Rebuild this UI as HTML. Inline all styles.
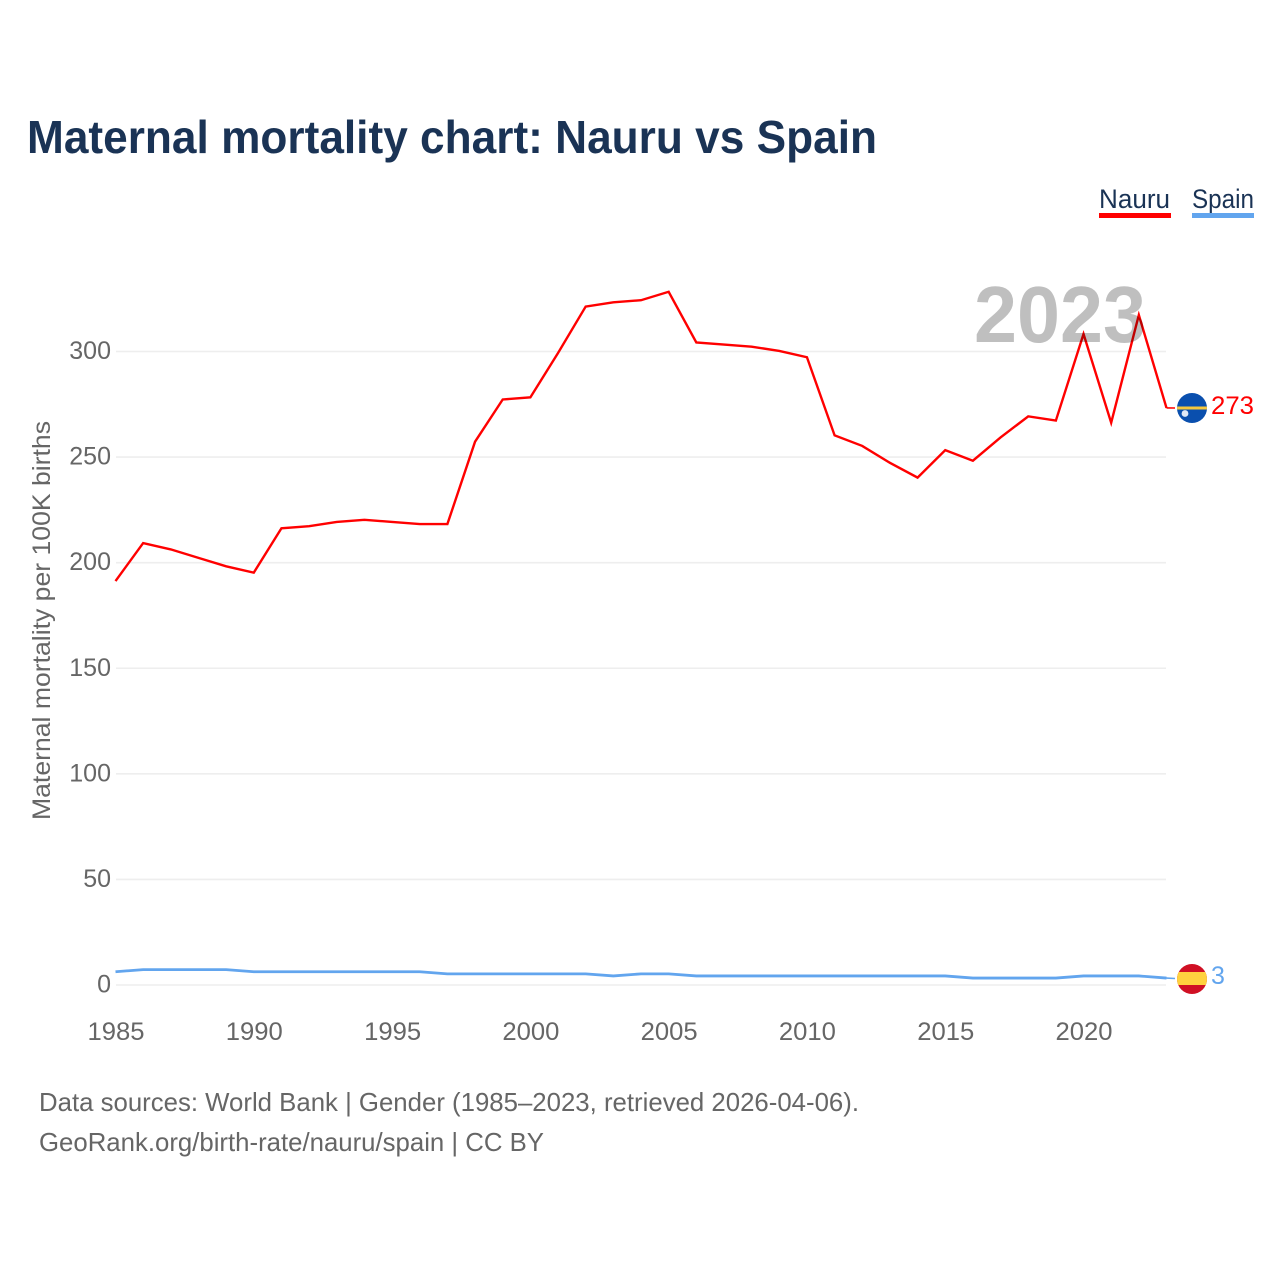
<!DOCTYPE html>
<html lang="en">
<head>
<meta charset="utf-8">
<title>Maternal mortality chart: Nauru vs Spain</title>
<style>
html,body{margin:0;padding:0;background:#fff;}
svg{display:block;font-family:"Liberation Sans",sans-serif;}
</style>
</head>
<body>
<svg id="chart" xmlns="http://www.w3.org/2000/svg" width="1280" height="1280" viewBox="0 0 1280 1280">
  <rect width="1280" height="1280" fill="#fff"/>
  <text x="27" y="153" font-size="46" font-weight="700" fill="#1a3355" textLength="850" lengthAdjust="spacingAndGlyphs">Maternal mortality chart: Nauru vs Spain</text>
  <g>
    <text x="1099" y="208" font-size="27" fill="#1a3355" textLength="71" lengthAdjust="spacingAndGlyphs">Nauru</text>
    <rect x="1099" y="213" width="72" height="5" fill="#ff0000"/>
  </g>
  <g>
    <text x="1192" y="208" font-size="27" fill="#1a3355" textLength="62" lengthAdjust="spacingAndGlyphs">Spain</text>
    <rect x="1192" y="213" width="62" height="5" fill="#62a5ee"/>
  </g>
  <g id="grid"></g>
  <g id="yticks"></g>
  <g id="xticks"></g>
  <text transform="translate(50,820) rotate(-90)" x="0" y="0" font-size="25" fill="#666" textLength="399" lengthAdjust="spacingAndGlyphs">Maternal mortality per 100K births</text>
  <g id="series"></g>
  <text x="974" y="342" font-size="80" font-weight="700" fill="#000" fill-opacity="0.25" textLength="172" lengthAdjust="spacingAndGlyphs">2023</text>
  <g id="nauru-flag">
    <clipPath id="nauru-clip"><circle cx="1192" cy="408" r="15"/></clipPath>
    <g clip-path="url(#nauru-clip)">
      <rect x="1177" y="393" width="30" height="30" fill="#0a4fae"/>
      <rect x="1177" y="406.5" width="30" height="3" fill="#f6c83e"/>
      <circle cx="1185" cy="413.5" r="3.4" fill="#dfe8f6"/>
    </g>
  </g>
  <g id="spain-flag">
    <clipPath id="spain-clip"><circle cx="1192" cy="979" r="15"/></clipPath>
    <g clip-path="url(#spain-clip)">
      <rect x="1177" y="964" width="30" height="30" fill="#d01024"/>
      <rect x="1177" y="972" width="30" height="13" fill="#ffd23f"/>
    </g>
  </g>
  <text id="nauru-value" x="1211" y="414" font-size="25" fill="#ff0000" textLength="43" lengthAdjust="spacingAndGlyphs"></text>
  <text id="spain-value" x="1211" y="984" font-size="25" fill="#62a5ee"></text>
  <text x="39" y="1111" font-size="26" fill="#666" textLength="820" lengthAdjust="spacingAndGlyphs">Data sources: World Bank | Gender (1985–2023, retrieved 2026-04-06).</text>
  <text x="39" y="1151" font-size="26" fill="#666" textLength="505" lengthAdjust="spacingAndGlyphs">GeoRank.org/birth-rate/nauru/spain | CC BY</text>
</svg>
<script>
const years = [1985,1986,1987,1988,1989,1990,1991,1992,1993,1994,1995,1996,1997,1998,1999,2000,2001,2002,2003,2004,2005,2006,2007,2008,2009,2010,2011,2012,2013,2014,2015,2016,2017,2018,2019,2020,2021,2022,2023];
const nauruValues = [191,209,206,202,198,195,216,217,219,220,219,218,218,257,277,278,299,321,323,324,328,304,303,302,300,297,260,255,247,240,253,248,259,269,267,308,266,317,273];
const spainValues = [6,7,7,7,7,6,6,6,6,6,6,6,5,5,5,5,5,5,4,5,5,4,4,4,4,4,4,4,4,4,4,3,3,3,3,4,4,4,3];
const yTickValues = [0,50,100,150,200,250,300];
const xTickValues = [1985,1990,1995,2000,2005,2010,2015,2020];

const NS = 'http://www.w3.org/2000/svg';
function xScale(year) { return 115.5 + (year - 1985) * (1166.5 - 115.5) / (2023 - 1985); }
function yScale(value) { return 985 - value * (985 - 351.5) / 300; }
function make(tag, parent, props, text) {
  const el = document.createElementNS(NS, tag);
  for (const k in props) el.setAttribute(k, props[k]);
  if (text !== undefined) el.textContent = text;
  parent.appendChild(el);
  return el;
}

const grid = document.getElementById('grid');
const yticks = document.getElementById('yticks');
yTickValues.forEach(function (v) {
  const line = make('line', grid, {x1: 116, x2: 1166, y1: yScale(v), y2: yScale(v), stroke: '#eeeeee', 'stroke-width': 1.6});
  
  
  const label = make('text', yticks, {x: 111, y: yScale(v) + 7.5, 'font-size': 25, fill: '#666', 'text-anchor': 'end'}, String(v));
  
  
});

const xticks = document.getElementById('xticks');
xTickValues.forEach(function (y) {
  const label = make('text', xticks, {x: xScale(y) + 0.5, y: 1040, 'font-size': 25, fill: '#666', 'text-anchor': 'middle', textLength: 57, lengthAdjust: 'spacingAndGlyphs'}, String(y));
  
  
});

function pathFor(values) {
  return values.map(function (v, i) {
    return (i ? 'L' : 'M') + xScale(years[i]).toFixed(2) + ' ' + (yScale(v) - 0.6).toFixed(2);
  }).join(' ');
}

const series = document.getElementById('series');
const nauruLine = make('path', series, {d: pathFor(nauruValues), fill: 'none', stroke: '#ff0000', 'stroke-width': 2.4, 'stroke-linejoin': 'miter'});


const spainLine = make('path', series, {d: pathFor(spainValues), fill: 'none', stroke: '#62a5ee', 'stroke-width': 2.8});



const lastNauru = nauruValues[nauruValues.length - 1];
const lastSpain = spainValues[spainValues.length - 1];
const nauruLead = make('line', series, {x1: xScale(2023), y1: yScale(lastNauru) - 0.6, x2: 1175, y2: 408, stroke: '#ff0000', 'stroke-width': 1.6});


const spainLead = make('line', series, {x1: xScale(2023), y1: yScale(lastSpain) - 0.6, x2: 1175, y2: 978.5, stroke: '#62a5ee', 'stroke-width': 1.6});


document.getElementById('nauru-value').textContent = String(lastNauru);
document.getElementById('spain-value').textContent = String(lastSpain);
</script>
</body>
</html>
